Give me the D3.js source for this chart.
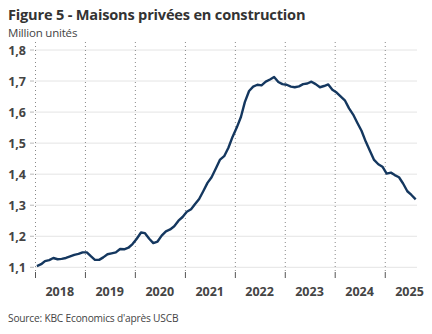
<!DOCTYPE html>
<html><head><meta charset="utf-8">
<script src="https://cdn.jsdelivr.net/npm/d3@7"></script>
<style>
html,body{margin:0;padding:0;background:#fff;}
svg{display:block;font-family:"Open Sans","Noto Sans",sans-serif;}
</style></head>
<body><svg id="c" width="432" height="334"></svg>
<script>
const startYear = 2018;
const years = ["2018","2019","2020","2021","2022","2023","2024","2025"];
const yTicks = [1.1,1.2,1.3,1.4,1.5,1.6,1.7,1.8];
const values = [
 1.104,1.110,1.120,1.123,1.130,1.126,1.127,1.130,1.135,1.140,1.143,1.148,
 1.148,1.135,1.124,1.124,1.132,1.142,1.145,1.148,1.159,1.158,1.163,1.175,
 1.192,1.212,1.210,1.192,1.178,1.183,1.202,1.216,1.222,1.232,1.250,1.262,
 1.279,1.287,1.303,1.320,1.345,1.372,1.390,1.418,1.447,1.458,1.485,1.520,
 1.550,1.585,1.632,1.668,1.682,1.688,1.686,1.698,1.705,1.713,1.697,1.690,
 1.688,1.682,1.680,1.683,1.690,1.692,1.698,1.690,1.680,1.684,1.689,1.672,
 1.663,1.650,1.638,1.612,1.592,1.565,1.540,1.505,1.475,1.446,1.432,1.424,
 1.402,1.405,1.397,1.390,1.370,1.345,1.333,1.319
];
const data = values.map((v,i)=>({date:new Date(startYear, i, 15), v}));

const svg = d3.select("#c");
const mLeft = 35, mRight = 418, mTop = 50, mBottom = 267.3;
const x = d3.scaleTime().domain([new Date(2018,0,1), new Date(2025,8,1)]).range([mLeft, mRight]);
const y = d3.scaleLinear().domain([1.1,1.8]).range([mBottom, mTop]);

// title
svg.append("text").attr("x",8).attr("y",20).attr("font-size",14.6).attr("font-weight","bold")
  .attr("fill","#333").attr("letter-spacing","-0.2").text("Figure 5 - Maisons privées en construction");
svg.append("text").attr("x",8).attr("y",36.5).attr("font-size",11.5).attr("fill","#444")
  .attr("letter-spacing","-0.2").text("Million unités");

// gridlines
svg.append("g").selectAll("line").data(yTicks).join("line")
  .attr("x1",mLeft).attr("x2",417).attr("y1",d=>y(d)).attr("y2",d=>y(d))
  .attr("stroke","#e4e4e4").attr("stroke-width",1);
// y tick marks + labels
const ya = svg.append("g");
ya.selectAll("line").data(yTicks).join("line")
  .attr("x1",30).attr("x2",34).attr("y1",d=>y(d)).attr("y2",d=>y(d))
  .attr("stroke","#bbb");
ya.selectAll("text").data(yTicks).join("text")
  .attr("x",26).attr("y",d=>y(d)+4.5).attr("text-anchor","end")
  .attr("font-size",12.5).attr("font-weight","bold").attr("fill","#444")
  .text(d=>d3.format(".1f")(d).replace(".",","));

// year boundaries
const bounds = years.map(yy=>new Date(+yy,0,1));
svg.append("g").selectAll("line").data(bounds).join("line")
  .attr("x1",d=>x(d)+0.5).attr("x2",d=>x(d)+0.5).attr("y1",42).attr("y2",271)
  .attr("stroke","#888").attr("stroke-width",1).attr("stroke-dasharray","1,3");
svg.append("g").selectAll("line").data(bounds).join("line")
  .attr("x1",d=>x(d)+0.5).attr("x2",d=>x(d)+0.5).attr("y1",272).attr("y2",278)
  .attr("stroke","#555").attr("stroke-width",1);
// year labels
svg.append("g").selectAll("text").data(years).join("text")
  .attr("x",d=>x(new Date(+d,6,1))).attr("y",296).attr("text-anchor","middle")
  .attr("font-size",12.5).attr("font-weight","bold").attr("fill","#444").text(d=>d);

// line
svg.append("path").datum(data)
  .attr("d", d3.line().x(d=>x(d.date)).y(d=>y(d.v)))
  .attr("fill","none").attr("stroke","#14375f").attr("stroke-width",2.4)
  .attr("stroke-linejoin","round");

// source
svg.append("text").attr("x",8).attr("y",322).attr("font-size",10.2).attr("fill","#444")
  .attr("letter-spacing","-0.2").text("Source: KBC Economics d'après USCB");
</script></body></html>
